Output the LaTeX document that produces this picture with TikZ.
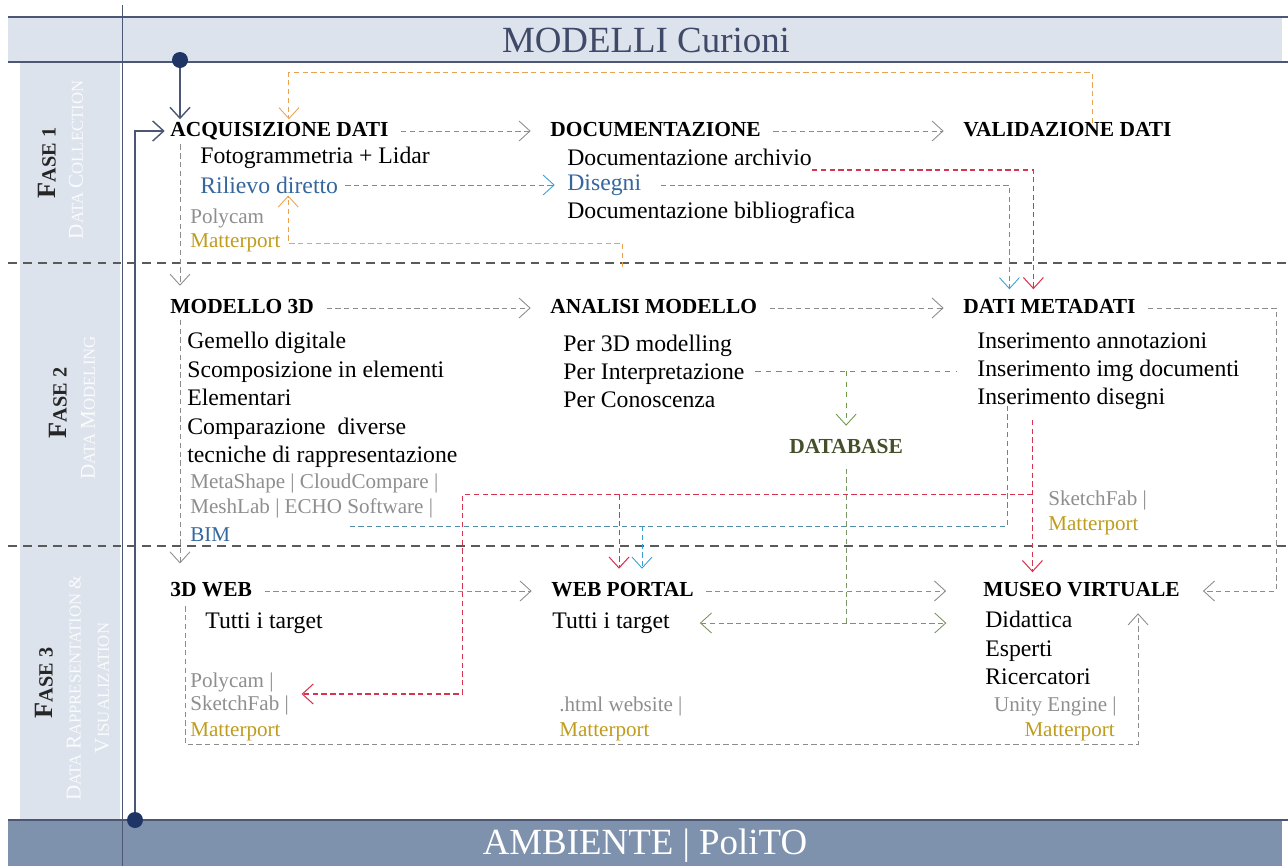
\documentclass[tikz,border=0pt]{standalone}
\usepackage{fontspec}
\setmainfont{Liberation Serif}
\usetikzlibrary{arrows.meta,calc}

\definecolor{bandlight}{HTML}{DDE3EC}
\definecolor{banddark}{HTML}{7E92AE}
\definecolor{rulecol}{HTML}{4B5775}
\definecolor{dotcol}{HTML}{1E3566}
\definecolor{titlecol}{HTML}{3F4A68}
\definecolor{grayline}{HTML}{8C8C8C}
\definecolor{orangeline}{HTML}{E9A453}
\definecolor{blueline}{HTML}{3A9FD6}
\definecolor{bluetext}{HTML}{34679E}
\definecolor{redline}{HTML}{D9344F}
\definecolor{greenline}{HTML}{6E9A48}
\definecolor{dbtext}{HTML}{43502A}
\definecolor{goldtext}{HTML}{C09C1C}
\definecolor{graytext}{HTML}{8E8E8E}
\definecolor{sepcol}{HTML}{5A5A5A}

% fake small caps for the side column
\newcommand{\phs}[2]{{\fontsize{15}{16}\selectfont #1}{\fontsize{11.5}{13}\selectfont #2}}
\newcommand{\fsc}[2]{{\fontsize{12}{13}\selectfont #1}{\fontsize{9.5}{11}\selectfont #2}}

\begin{document}
\begin{tikzpicture}[x=0.02cm,y=-0.02cm,>={Straight Barb[length=2.2mm,width=4mm]},
  head/.style={anchor=west,inner sep=0pt,text height=1.6ex,text depth=.35ex,
    font=\fontsize{12.2}{14}\selectfont\bfseries},
  item/.style={anchor=west,inner sep=0pt,align=left,font=\fontsize{13.5}{16}\selectfont},
  tool/.style={anchor=west,inner sep=0pt,align=left,text=graytext,
    font=\fontsize{12}{14}\selectfont},
  gold/.style={tool,text=goldtext},
  phase/.style={rotate=90,inner sep=0pt,text=black!85,font=\bfseries},
  faint/.style={rotate=90,inner sep=0pt,align=center,text=white!85!bandlight},
  dot/.style={circle,fill=dotcol,inner sep=0pt,minimum size=0.32cm},
  mainline/.style={draw=rulecol,line width=0.8pt,->},
  flow/.style={draw=grayline,line width=0.5pt,densely dashed,->,shorten <=7pt,shorten >=11pt},
  blueflow/.style={draw=blueline,line width=0.5pt,densely dashed},
  redflow/.style={draw=redline,line width=0.6pt,densely dashed},
  orangeflow/.style={draw=orangeline,line width=0.5pt,densely dashed},
  greenflow/.style={draw=greenline,line width=0.5pt,dashed},
  dbflow/.style={draw=greenline!60!grayline,line width=0.5pt,densely dashed},
  sep/.style={draw=sepcol,line width=0.8pt,dash pattern=on 5pt off 3.5pt}]
  \useasboundingbox (0,0) rectangle (1288,866);

  % bands and side column
  \fill[bandlight] (8,17) rectangle (1282,62);
  \fill[bandlight] (20,62) rectangle (120,820);
  \fill[banddark] (8,820) rectangle (1282,866);
  \draw[rulecol,line width=1.2pt] (8,17) -- (1288,17);
  \draw[rulecol,line width=1.2pt] (8,62) -- (1288,62);
  \draw[rulecol,line width=1.2pt] (8,820) -- (1288,820);
  \draw[rulecol,line width=0.5pt] (122,5) -- (122,866);
  \draw[sep] (8,263) -- (1288,263);
  \draw[sep] (8,546) -- (1288,546);

  \node[text=titlecol,font=\fontsize{21}{24}\selectfont] (title) at (646,40) {MODELLI Curioni};
  \node[text=white,font=\fontsize{21}{24}\selectfont] (footer) at (645,846) {AMBIENTE | PoliTO};

  \node[phase] (fase1) at (47,163) {\phs{F}{ASE 1}};
  \node[faint] (fase1b) at (76,160) {\fsc{D}{ATA} \fsc{C}{OLLECTION}};
  \node[phase] (fase2) at (58,403) {\phs{F}{ASE 2}};
  \node[faint] (fase2b) at (88,408) {\fsc{D}{ATA} \fsc{M}{ODELING}};
  \node[phase] (fase3) at (44,683) {\phs{F}{ASE 3}};
  \node[faint] (fase3b) at (88,688) {\fsc{D}{ATA} \fsc{R}{APPRESENTATION} \&\\[4pt]\fsc{V}{ISUALIZATION}};

  % fase 1
  \node[head] (acq) at (170,131) {ACQUISIZIONE DATI};
  \node[head] (doc) at (550,131) {DOCUMENTAZIONE};
  \node[head] (val) at (963,131) {VALIDAZIONE DATI};
  \node[item] (foto) at (200,158) {Fotogrammetria + Lidar};
  \node[item,text=bluetext] (rilievo) at (200,185) {Rilievo diretto};
  \node[tool] (polycam) at (190,218) {Polycam};
  \node[gold] (matter1) at (190,243) {Matterport};
  \node[item] (docarch) at (567,157) {Documentazione archivio};
  \node[item,text=bluetext] (disegni) at (567,185) {Disegni};
  \node[item] (docbib) at (567,213) {Documentazione bibliografica};

  % fase 2
  \node[head] (mod) at (170,308) {MODELLO 3D};
  \node[head] (ana) at (550,308) {ANALISI MODELLO};
  \node[head] (dati) at (963,308) {DATI METADATI};
  \node[item,font=\fontsize{13.5}{16.3}\selectfont] (gemello) at (187,400)
    {Gemello digitale\\Scomposizione in elementi\\Elementari\\Comparazione~ diverse\\tecniche di rappresentazione};
  \node[tool] (software) at (190,496) {MetaShape | CloudCompare |\\MeshLab | ECHO Software |};
  \node[tool,text=bluetext] (bim) at (190,535) {BIM};
  \node[item] (per) at (563,371) {Per 3D modelling\\Per Interpretazione\\Per Conoscenza};
  \node[item] (ins) at (977,371) {Inserimento annotazioni\\Inserimento img documenti\\Inserimento disegni};
  \node[head,text=dbtext] (db) at (789,448) {DATABASE};
  \node[tool] (sketch1) at (1048,500) {SketchFab |};
  \node[gold] (matter2) at (1048,526) {Matterport};

  % fase 3
  \node[head] (web3d) at (170,591) {3D WEB};
  \node[head] (portal) at (551,591) {WEB PORTAL};
  \node[head] (museo) at (983,591) {MUSEO VIRTUALE};
  \node[item] (tutti1) at (205,623) {Tutti i target};
  \node[item] (tutti2) at (552,623) {Tutti i target};
  \node[item,font=\fontsize{13.5}{16.2}\selectfont] (pubblico) at (985,648) {Didattica\\Esperti\\Ricercatori};
  \node[tool,font=\fontsize{12}{13.6}\selectfont] (webtools) at (190,694) {Polycam |\\SketchFab |};
  \node[gold] (matter3) at (190,732) {Matterport};
  \node[tool] (html) at (559,706) {.html website |};
  \node[gold] (matter4) at (559,732) {Matterport};
  \node[tool,anchor=east] (unity) at (1117,706) {Unity Engine |};
  \node[gold,anchor=east] (matter5) at (1115,732) {Matterport};

  % entry points
  \node[dot] (start) at (180,60) {};
  \node[dot] (finish) at (135,820) {};
  \draw[mainline,shorten >=2pt] (start) -- (start |- acq.north);
  \draw[mainline,shorten >=3pt] (finish) |- (acq.west);

  % main sequence
  \draw[flow] (acq) -- (doc);
  \draw[flow] (doc) -- (val);
  \draw[flow] (mod) -- (ana);
  \draw[flow] (ana) -- (dati);
  \draw[flow] (web3d) -- (portal);
  \draw[flow,shorten >=21pt] (portal) -- (museo);
  \draw[flow,shorten <=3pt,shorten >=8pt] ([xshift=.2cm]acq.south west) -- ([xshift=.2cm]mod.north west);
  \draw[flow,shorten <=2pt,shorten >=11pt] ([xshift=.2cm]mod.south west) -- ([xshift=.2cm]web3d.north west);
  \draw[flow,shorten >=13pt] (dati.east) -| ([xshift=1.92cm]museo.east) -- (museo.east);
  \draw[flow,shorten <=4pt,shorten >=8pt] ([xshift=.3cm]web3d.south west)
    |- ([xshift=-.84cm,yshift=-2.9cm]museo.south east) -- ([xshift=-.84cm]museo.south east);

  % orange returns
  \draw[orangeflow,->,shorten >=2pt] ([xshift=.5cm]val.north)
    |- ([xshift=.19cm,yshift=1cm]acq.north) -- ([xshift=.19cm]acq.north);
  \draw[orangeflow,->,shorten >=1pt] ([xshift=-.63cm,yshift=.66cm]ana.north)
    |- ([xshift=.38cm]rilievo.south |- matter1.east) -- ([xshift=.38cm]rilievo.south);

  % blue
  \draw[blueflow,->,shorten <=4pt,shorten >=7pt] (rilievo) -- (disegni);
  \draw[blueflow,->,shorten <=11pt,shorten >=6pt] (disegni.east) -| ([xshift=-.8cm]dati.north);
  \coordinate (bimbus) at ([xshift=2.38cm,yshift=.18cm]bim.east);
  \draw[blueflow,draw=blueline!70!black!80,shorten >=-5pt] (bimbus) -| ([xshift=-2.02cm]ins.south);
  \draw[blueflow,->,shorten >=8pt] ([xshift=.39cm]portal.north |- bimbus) -- ([xshift=.39cm]portal.north);

  % red
  \draw[redflow,->,shorten >=6pt] ([yshift=-.26cm]docarch.east) -| ([xshift=-.32cm]dati.north);
  \coordinate (redtop) at ([xshift=-1.52cm,yshift=-.2cm]ins.south);
  \coordinate (redbus) at ([yshift=-1.5cm]redtop);
  \coordinate (redcorner) at ([xshift=3.46cm]webtools.east |- redbus);
  \draw[redflow,->,shorten >=6pt] (redtop) -- (redtop |- museo.north);
  \draw[redflow,->,shorten >=7pt] (redbus) -- (redcorner) |- (webtools.east);
  \draw[redflow,->,shorten >=8pt] ([xshift=-.07cm]portal.north |- redbus) -- ([xshift=-.07cm]portal.north);

  % green / database
  \draw[greenflow,shorten <=6pt,shorten >=12pt] (per.east) -- (per.east -| ins.west);
  \draw[greenflow,->,shorten >=8pt] (db.north |- per.east) -- (db.north);
  \draw[dbflow,shorten <=7pt] (db.south) -- (db.south |- tutti2.east);
  \draw[dbflow,<->,shorten <=17pt,shorten >=22pt] (tutti2.east) -- (tutti2.east -| pubblico.west);
\end{tikzpicture}
\end{document}
